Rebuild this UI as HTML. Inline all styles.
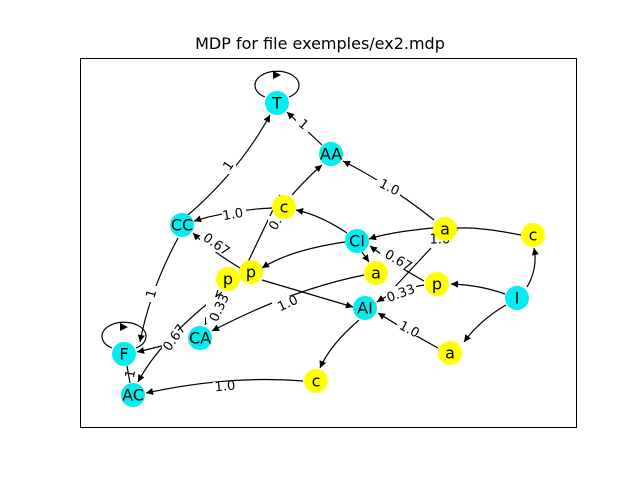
<!DOCTYPE html>
<html><head><meta charset="utf-8"><style>
html,body{margin:0;padding:0;background:#fff;}
svg{display:block;font-family:"DejaVu Sans","Liberation Sans",sans-serif;}
.e{fill:none;stroke:#000;stroke-width:1.2;}
.n text{font-size:16px;text-anchor:middle;dominant-baseline:central;}
.l{font-size:13px;text-anchor:middle;dominant-baseline:central;}
.lb{fill:#fff;}
</style></head><body>
<svg width="640" height="480" viewBox="0 0 640 480">
<defs><marker id="a" viewBox="0 0 10 10" refX="10" refY="5" markerWidth="8" markerHeight="7" markerUnits="userSpaceOnUse" orient="auto"><path d="M0,0L10,5L0,10z"/></marker></defs>
<text x="320" y="49" font-size="16" text-anchor="middle">MDP for file exemples/ex2.mdp</text>
<rect x="80.5" y="58.5" width="496" height="369" fill="none" stroke="#000"/>
<g class="e">
<path d="M265,97 A22,14 0 1 1 289,97" />
<path d="M112,348 A22,14 0 1 1 136,348"/>
<path d="M280,195 L248,262"/>
<path d="M431,248 L392,290"/>
<path d="M127,366 L130,383"/>
</g>
<path d="M273,71 L281,75 L273,79z"/>
<path d="M120,323 L128,327 L120,331z"/>
<g class="e" marker-end="url(#a)">
<path d="M322,145 L287,112"/>
<path d="M188,215 Q240,170 270,115"/>
<path d="M292,195 Q310,175 322,165"/>
<path d="M272,208 Q230,210 194,221"/>
<path d="M347,233 Q320,215 296,210"/>
<path d="M345,242 Q290,250 262,268"/>
<path d="M362,252 L369,262"/>
<path d="M433,228 Q390,232 369,239"/>
<path d="M434,220 Q390,185 343,161"/>
<path d="M521,235 Q470,225 450,229"/>
<path d="M424,281 Q395,265 370,246"/>
<path d="M424,285 Q395,290 377,302"/>
<path d="M505,294 Q480,285 451,284"/>
<path d="M527,287 Q538,268 534,248"/>
<path d="M506,305 Q480,320 464,342"/>
<path d="M438,348 Q405,330 378,313"/>
<path d="M359,320 Q330,345 320,368"/>
<path d="M303,381 Q230,375 146,393"/>
<path d="M364,275 Q290,290 212,331"/>
<path d="M262,280 L353,307"/>
<path d="M240,268 Q210,250 193,233"/>
<path d="M218,290 Q210,315 205,325"/>
<path d="M222,292 Q160,340 138,382"/>
<path d="M178,238 Q150,290 140,342"/>
<path d="M165,345 Q150,349 137,352"/>
</g>
<g class="l">
<rect class="lb" x="296" y="116" width="14" height="16"/><text x="303" y="125" transform="rotate(40 303 125)">1</text>
<rect class="lb" x="222" y="158" width="14" height="16"/><text x="229" y="166" transform="rotate(-55 229 166)">1</text>
<rect class="lb" x="222" y="207" width="24" height="16"/><text x="233" y="215" transform="rotate(-10 233 215)">1.0</text>
<rect class="lb" x="376" y="180" width="24" height="16"/><text x="389" y="188" transform="rotate(27 389 188)">1.0</text>
<rect class="lb" x="268" y="216" width="14" height="16"/><text x="276" y="224" transform="rotate(-60 276 224)">0.</text>
<rect class="lb" x="200" y="236" width="30" height="16"/><text x="216" y="245" transform="rotate(35 216 245)">0.67</text>
<rect class="lb" x="380" y="253" width="30" height="16"/><text x="398" y="261" transform="rotate(30 398 261)">0.67</text>
<rect class="lb" x="386" y="286" width="30" height="16"/><text x="401" y="294" transform="rotate(-20 401 294)">0.33</text>
<rect class="lb" x="272" y="296" width="24" height="16"/><text x="288" y="304" transform="rotate(-25 288 304)">1.0</text>
<rect class="lb" x="397" y="320" width="24" height="16"/><text x="409" y="330" transform="rotate(28 409 330)">1.0</text>
<rect class="lb" x="213" y="382" width="24" height="16"/><text x="225" y="387" transform="rotate(-5 225 387)">1.0</text>
<rect class="lb" x="206" y="297" width="16" height="26"/><text x="220" y="308" transform="rotate(-65 220 308)">0.33</text>
<rect class="lb" x="162" y="330" width="16" height="22"/><text x="175" y="338" transform="rotate(-55 175 338)">0.67</text>
<rect class="lb" x="145" y="286" width="14" height="16"/><text x="152" y="294" transform="rotate(-75 152 294)">1</text>
<text x="131" y="374" transform="rotate(-80 131 374)">1</text>
<text x="440" y="240">1.0</text>
</g>
<g class="n">
<g fill="#00eeee">
<circle cx="277" cy="103" r="12"/><circle cx="331" cy="154" r="12"/><circle cx="182" cy="225" r="12"/><circle cx="357" cy="241" r="12"/><circle cx="517" cy="298" r="12"/><circle cx="365" cy="308" r="12"/><circle cx="200" cy="338" r="12"/><circle cx="124" cy="354" r="12"/><circle cx="133" cy="395" r="12"/>
</g>
<g fill="#ffff00">
<circle cx="284" cy="207" r="12"/><circle cx="445" cy="229" r="12"/><circle cx="533" cy="235" r="12"/><circle cx="228" cy="279" r="12"/><circle cx="251" cy="272" r="12"/><circle cx="376" cy="273" r="12"/><circle cx="437" cy="284" r="12"/><circle cx="450" cy="353" r="12"/><circle cx="316" cy="381" r="12"/>
</g>
<text x="277" y="103">T</text><text x="331" y="154">AA</text><text x="182" y="225">CC</text><text x="357" y="241">CI</text><text x="517" y="298">I</text><text x="365" y="308">AI</text><text x="200" y="338">CA</text><text x="124" y="354">F</text><text x="133" y="395">AC</text>
<text x="284" y="207">c</text><text x="445" y="229">a</text><text x="533" y="235">c</text><text x="228" y="279">p</text><text x="251" y="272">p</text><text x="376" y="273">a</text><text x="437" y="284">p</text><text x="450" y="353">a</text><text x="316" y="381">c</text>
</g>
</svg>
</body></html>
